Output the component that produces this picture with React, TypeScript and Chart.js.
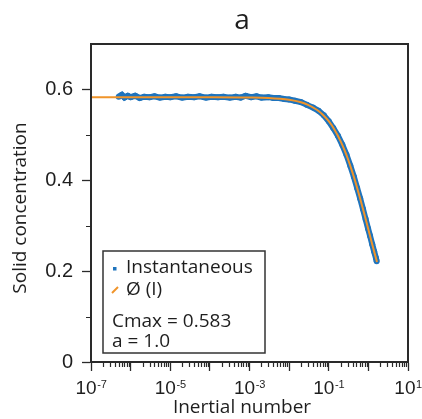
import React, { useEffect, useRef } from "react";
import { Chart, registerables } from "chart.js";

Chart.register(...registerables);

// ---------- data ----------
const chartTitle = "a";
const xAxisTitle = "Inertial number";
const yAxisTitle = "Solid concentration";
const instLabel = "Instantaneous";
const fitLabel = "Ø (I)";
const fitParams = ["Cmax = 0.583", "a = 1.0"];

const instX = [
  5e-7, 6e-7, 7e-7, 8.5e-7, 1e-6, 1.3e-6, 1.7e-6, 2.2e-6, 3e-6, 4e-6, 5.5e-6, 7.5e-6,
  1e-5, 1.4e-5, 2e-5, 2.8e-5, 4e-5, 5.5e-5, 8e-5, 1.1e-4, 1.6e-4, 2.2e-4, 3.2e-4, 4.5e-4,
  6e-4, 8e-4, 1.1e-3, 1.5e-3, 2e-3, 3e-3, 4e-3, 5.5e-3, 7.5e-3, 0.01, 0.014, 0.02, 0.028,
  0.04, 0.055, 0.075, 0.1, 0.13, 0.17, 0.22, 0.28, 0.35, 0.43, 0.52, 0.62, 0.73, 0.85,
  0.98, 1.1, 1.25, 1.4, 1.55, 1.62,
];
const instY = [
  0.584, 0.588, 0.582, 0.586, 0.583, 0.586, 0.581, 0.584, 0.583, 0.585, 0.582, 0.584,
  0.583, 0.585, 0.582, 0.584, 0.583, 0.585, 0.582, 0.584, 0.583, 0.584, 0.582, 0.584,
  0.582, 0.586, 0.583, 0.585, 0.582, 0.583, 0.581, 0.581, 0.579, 0.578, 0.575, 0.572, 0.566,
  0.56, 0.553, 0.543, 0.53, 0.515, 0.498, 0.478, 0.456, 0.432, 0.408, 0.383, 0.36, 0.337, 0.315,
  0.294, 0.278, 0.259, 0.243, 0.229, 0.222,
];

const fitX = [
  1e-7, 1e-4, 1e-3, 3e-3, 0.01, 0.02, 0.03, 0.05, 0.07, 0.1, 0.14, 0.2, 0.25, 0.3, 0.4,
  0.5, 0.6, 0.7, 0.85, 1.0, 1.15, 1.3, 1.45, 1.65,
];
const fitY = [
  0.583, 0.5829, 0.5824, 0.5813, 0.5772, 0.5716, 0.566, 0.5552, 0.5449, 0.53, 0.5114,
  0.4858, 0.4664, 0.4485, 0.4164, 0.3887, 0.3644, 0.3429, 0.3151, 0.2915, 0.2712, 0.2535,
  0.238, 0.22,
];

const xMajorTicks = [1e-7, 1e-6, 1e-5, 1e-4, 1e-3, 1e-2, 1e-1, 1e0, 1e1];
const xLabelExponents = [-7, -5, -3, -1, 1];
const xMinorMultipliers = [2, 3, 4, 5, 6, 7, 8, 9];
const yMajorTicks = [0, 0.2, 0.4, 0.6];
const yMinorTicks = [0.1, 0.3, 0.5];

// ---------- styles ----------
const BLUE = "#1f74bd";
const ORANGE = "#f0942a";
const AXIS = "#2a2a2a";
const TEXT = "#1e1e1e";
const LABEL_FONT = '"Open Sans", sans-serif';
const NUM_FONT = '"Liberation Sans", Arial, sans-serif';

const overlayPlugin = {
  id: "overlay",
  afterDraw(chart: any) {
    const { ctx, chartArea: a, scales } = chart;
    const xs = scales.x;
    const ys = scales.y;
    ctx.save();

    // frame
    ctx.strokeStyle = AXIS;
    ctx.lineWidth = 2;
    ctx.strokeRect(a.left, a.top, a.right - a.left, a.bottom - a.top);

    // minor ticks
    ctx.lineWidth = 1.2;
    ctx.beginPath();
    for (let i = 0; i < xMajorTicks.length - 1; i++) {
      for (const m of xMinorMultipliers) {
        const px = Math.round(xs.getPixelForValue(m * xMajorTicks[i])) + 0.5;
        ctx.moveTo(px, a.bottom);
        ctx.lineTo(px, a.bottom + 5);
      }
    }
    for (const v of yMinorTicks) {
      const py = Math.round(ys.getPixelForValue(v)) + 0.5;
      ctx.moveTo(a.left, py);
      ctx.lineTo(a.left - 5, py);
    }
    ctx.stroke();

    // x tick labels with superscripts
    ctx.fillStyle = TEXT;
    ctx.textBaseline = "alphabetic";
    ctx.textAlign = "left";
    for (const e of xLabelExponents) {
      const px = xs.getPixelForValue(Math.pow(10, e));
      ctx.font = `19px ${NUM_FONT}`;
      const base = "10";
      const wb = ctx.measureText(base).width;
      ctx.font = `11px ${NUM_FONT}`;
      const sup = String(e);
      const ws = ctx.measureText(sup).width;
      const start = px - (wb + ws) / 2;
      ctx.font = `19px ${NUM_FONT}`;
      ctx.fillText(base, start, a.bottom + 32);
      ctx.font = `11px ${NUM_FONT}`;
      ctx.fillText(sup, start + wb + 0.5, a.bottom + 26);
    }

    const cx = (a.left + a.right) / 2 - 7.5;

    // chart title
    ctx.font = `28px ${LABEL_FONT}`;
    ctx.textAlign = "center";
    ctx.textBaseline = "middle";
    ctx.fillText(chartTitle, cx, a.top - 23);

    // axis titles
    ctx.font = `19px ${LABEL_FONT}`;
    ctx.fillText(xAxisTitle, cx, a.bottom + 46);
    ctx.save();
    ctx.translate(a.left - 70, (a.top + a.bottom) / 2 + 5);
    ctx.rotate(-Math.PI / 2);
    ctx.fillText(yAxisTitle, 0, 0);
    ctx.restore();

    // legend box
    const bx = a.left + 12;
    const by = a.bottom - 111;
    const bw = 162;
    const bh = 102;
    ctx.fillStyle = "#ffffff";
    ctx.fillRect(bx, by, bw, bh);
    ctx.strokeStyle = "#333333";
    ctx.lineWidth = 1.5;
    ctx.strokeRect(bx, by, bw, bh);

    const ds = chart.data.datasets;
    // instantaneous marker
    ctx.fillStyle = BLUE;
    ctx.fillRect(bx + 10, by + 16, 3.5, 3.5);
    // fit marker
    ctx.strokeStyle = ORANGE;
    ctx.lineWidth = 2;
    ctx.beginPath();
    ctx.moveTo(bx + 9, by + 42);
    ctx.lineTo(bx + 15, by + 36);
    ctx.stroke();

    ctx.fillStyle = TEXT;
    ctx.font = `19px ${LABEL_FONT}`;
    ctx.textAlign = "left";
    ctx.textBaseline = "middle";
    ctx.fillText(ds[1].label, bx + 23, by + 17);
    ctx.fillText(ds[0].label, bx + 23, by + 39);
    ctx.fillText(fitParams[0], bx + 9, by + 71);
    ctx.fillText(fitParams[1], bx + 9, by + 91);

    ctx.restore();
  },
};

export default function App() {
  const ref = useRef<HTMLCanvasElement | null>(null);

  useEffect(() => {
    if (!ref.current) return;
    const chart = new Chart(ref.current, {
      type: "line",
      data: {
        datasets: [
          {
            label: fitLabel,
            data: fitX.map((x, i) => ({ x, y: fitY[i] })),
            borderColor: ORANGE,
            borderWidth: 2,
            pointRadius: 0,
            cubicInterpolationMode: "monotone",
            order: 0,
          },
          {
            label: instLabel,
            data: instX.map((x, i) => ({ x, y: instY[i] })),
            borderColor: BLUE,
            backgroundColor: BLUE,
            borderWidth: 6,
            pointRadius: 3,
            pointBorderWidth: 0,
            pointBackgroundColor: BLUE,
            tension: 0,
            order: 1,
          },
        ],
      },
      options: {
        animation: false,
        responsive: false,
        devicePixelRatio: 1,
        layout: { padding: { top: 44, right: 14, bottom: 0, left: 0 } },
        plugins: {
          legend: { display: false },
          title: { display: false },
          tooltip: { enabled: false },
        },
        scales: {
          x: {
            type: "logarithmic",
            position: "bottom",
            min: 1e-7,
            max: 10,
            afterBuildTicks: (scale: any) => {
              scale.ticks = xMajorTicks.map((v) => ({ value: v, major: true }));
            },
            afterFit: (scale: any) => {
              scale.height = 57;
            },
            ticks: { display: false },
            grid: {
              drawOnChartArea: false,
              drawTicks: true,
              tickLength: 9,
              tickColor: AXIS,
              tickWidth: 1.3,
            },
            border: { display: true, color: AXIS, width: 2 },
            title: { display: false, text: xAxisTitle },
          },
          y: {
            type: "linear",
            position: "left",
            min: 0,
            max: 0.7,
            afterBuildTicks: (scale: any) => {
              scale.ticks = yMajorTicks.map((v) => ({ value: v }));
            },
            afterFit: (scale: any) => {
              scale.width = 91;
            },
            ticks: {
              color: TEXT,
              font: { family: NUM_FONT, size: 20 },
              padding: 9,
              callback: (v: any) => (Number(v) === 0 ? "0" : Number(v).toFixed(1)),
            },
            grid: {
              drawOnChartArea: false,
              drawTicks: true,
              tickLength: 9,
              tickColor: AXIS,
              tickWidth: 1.3,
            },
            border: { display: true, color: AXIS, width: 2 },
            title: { display: false, text: yAxisTitle },
          },
        },
      },
      plugins: [overlayPlugin],
    } as any);
    return () => chart.destroy();
  }, []);

  return (
    <div style={{ position: "absolute", left: 0, top: 0, width: 422, height: 419, background: "#fff" }}>
      <canvas ref={ref} width={422} height={419} style={{ display: "block" }} />
    </div>
  );
}
